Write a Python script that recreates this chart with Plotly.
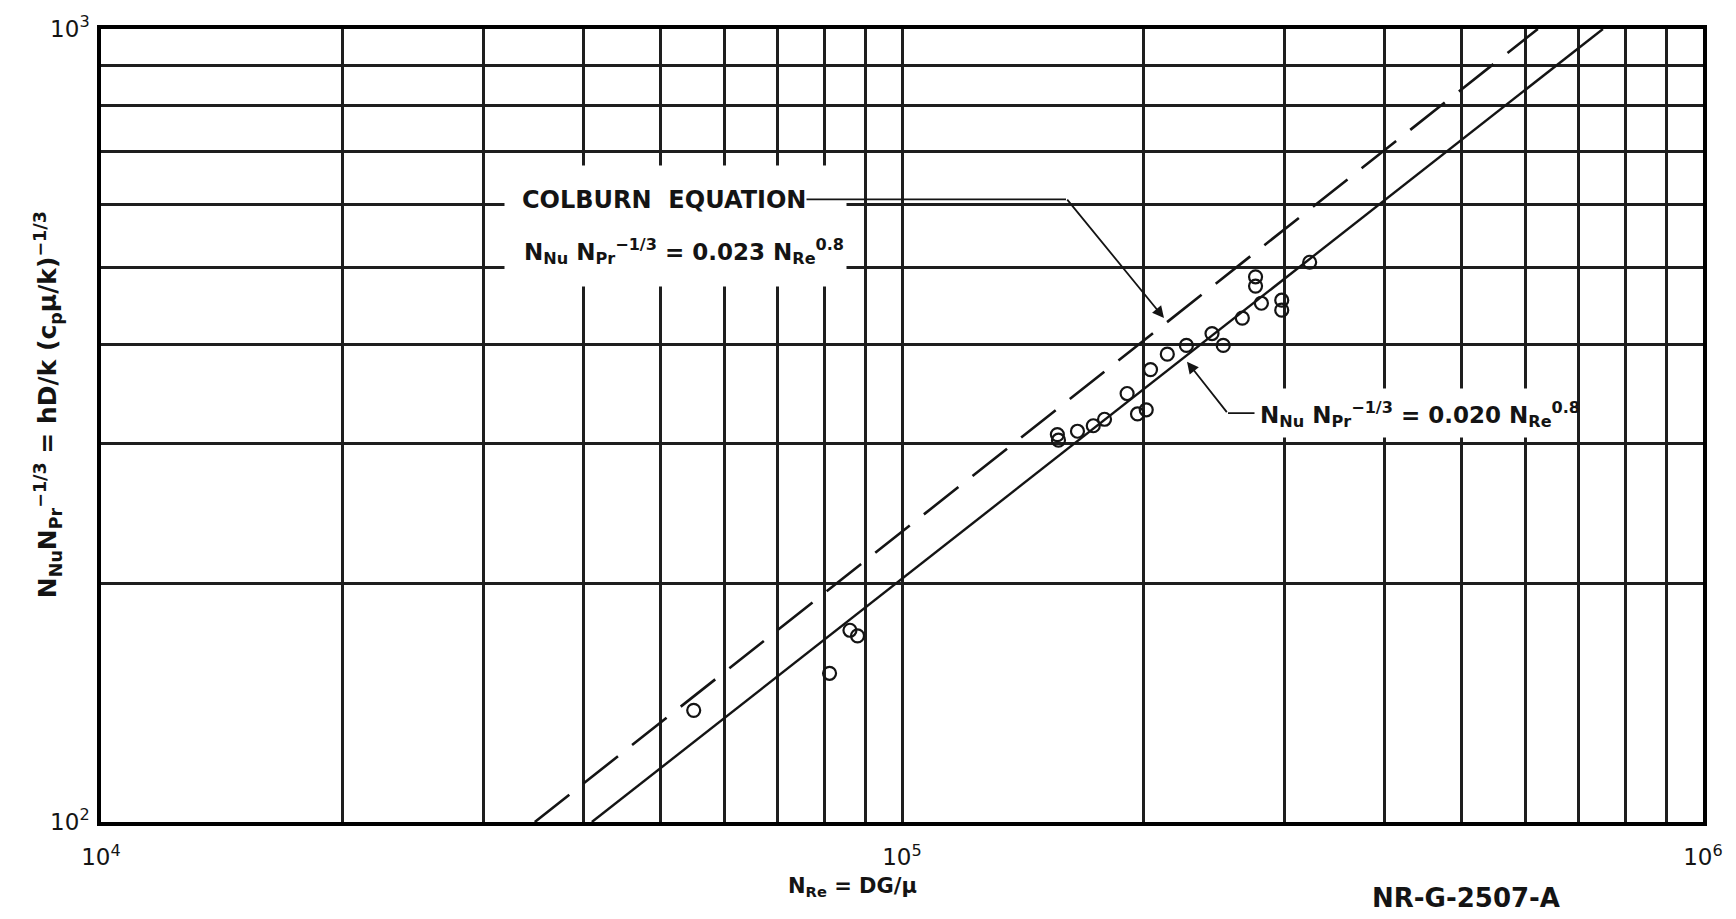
import plotly.graph_objects as go

# ---- data ----
re_pts = [54950, 81200, 86100, 88000, 156300, 156800, 165600, 173300, 179000,
          191000, 196800, 201800, 204300, 214400, 226500, 243800, 251800,
          266000, 276300, 276300, 281000, 297900, 297900, 322800]
nu_pts = [138.3, 154, 174.5, 171.7, 308, 303, 311, 316, 322,
          347, 327, 331, 372, 389, 399, 413, 399,
          432, 487, 474, 451, 455, 442, 508]

colburn_re = [34800, 622000]
colburn_nu = [100, 1000]
fit_re = [41000, 750000]
fit_nu = [100, 1000]

x_tickvals = [m * 10 ** e for e in (4, 5) for m in range(1, 10)] + [10 ** 6]
x_ticktext = ["10<sup>4</sup>"] + [""] * 8 + ["10<sup>5</sup>"] + [""] * 8 + ["10<sup>6</sup>"]
y_tickvals = [m * 100 for m in range(1, 10)] + [1000]
y_ticktext = ["10<sup>2</sup>"] + [""] * 8 + ["10<sup>3</sup>"]

INK = "#141414"
FONT = "DejaVu Sans"

fig = go.Figure()

fig.add_trace(go.Scatter(
    x=colburn_re, y=colburn_nu, mode="lines",
    line=dict(color=INK, width=2.6, dash="44px,18px"), showlegend=False))
fig.add_trace(go.Scatter(
    x=fit_re, y=fit_nu, mode="lines",
    line=dict(color=INK, width=2.4), showlegend=False))
fig.add_trace(go.Scatter(
    x=re_pts, y=nu_pts, mode="markers",
    marker=dict(symbol="circle-open", size=13, color=INK, line=dict(width=2.2, color=INK)),
    showlegend=False))

axis_common = dict(
    type="log", showgrid=True, gridcolor="#1e1e1e", gridwidth=2.5,
    showline=True, linecolor="black", linewidth=3.5, mirror=True,
    ticks="", zeroline=False, tickmode="array",
    tickfont=dict(family=FONT, size=23, color=INK),
)
fig.update_xaxes(range=[4, 6], tickvals=x_tickvals, ticktext=x_ticktext,
                 ticklabelstandoff=12, **axis_common)
fig.update_yaxes(range=[2, 3], tickvals=y_tickvals, ticktext=y_ticktext,
                 ticklabelstandoff=3, **axis_common)

W, H = 1736, 919
L, R, T, B = 101, 33, 21, 97
PW, PH = W - L - R, H - T - B


def px(x):
    return (x - L) / PW


def py(y):
    return (H - B - y) / PH


annotations = []
# white masks that break the grid behind the labels (drawn first)
for x0, y0, x1, y1 in [(505, 160, 846, 280), (1252, 385, 1570, 433)]:
    annotations.append(dict(xref="paper", yref="paper",
                            x=px((x0 + x1) / 2), y=py((y0 + y1) / 2),
                            xanchor="center", yanchor="middle",
                            width=x1 - x0, height=y1 - y0, borderpad=0,
                            text="&nbsp;", showarrow=False, bgcolor="white",
                            font=dict(size=4, color="white")))
# leader lines: plain segments (no head) and arrowed segments
for tx, ty, sx, sy, head in [(1066, 193, 805, 193, 0), (1164, 313, 1066, 193, 2),
                             (1228, 409, 1256, 409, 0), (1187, 357, 1228, 409, 2)]:
    annotations.append(dict(xref="paper", yref="paper", x=px(tx), y=py(ty),
                            ax=sx - tx, ay=sy - ty, text="", showarrow=True,
                            arrowhead=head, arrowsize=1.3, arrowwidth=1.8,
                            arrowcolor=INK, standoff=0, startstandoff=0))

annotations += [
    dict(xref="paper", yref="paper", x=px(520), y=py(194), xanchor="left", yanchor="middle",
         text="<b>COLBURN&nbsp; EQUATION</b>", showarrow=False,
         font=dict(family=FONT, size=24, color=INK)),
    dict(xref="paper", yref="paper", x=px(522), y=py(246), xanchor="left", yanchor="middle",
         text="<b>N<sub>Nu</sub> N<sub>Pr</sub><sup>−1/3</sup> = 0.023 N<sub>Re</sub><sup>0.8</sup></b>",
         showarrow=False, font=dict(family=FONT, size=23, color=INK)),
    dict(xref="paper", yref="paper", x=px(1258), y=py(410), xanchor="left", yanchor="middle",
         text="<b>N<sub>Nu</sub> N<sub>Pr</sub><sup>−1/3</sup> = 0.020 N<sub>Re</sub><sup>0.8</sup></b>",
         showarrow=False, font=dict(family=FONT, size=23, color=INK)),
    dict(xref="paper", yref="paper", x=px(48), y=py(401), xanchor="center", yanchor="middle",
         textangle=-90,
         text="<b>N<sub>Nu</sub>N<sub>Pr</sub><sup>−1/3</sup> = hD/k (c<sub>p</sub>μ/k)<sup>−1/3</sup></b>",
         showarrow=False, font=dict(family=FONT, size=25, color=INK)),
    dict(xref="paper", yref="paper", x=px(852), y=py(888), xanchor="center", yanchor="middle",
         text="<b>N<sub>Re</sub> = DG/μ</b>", showarrow=False,
         font=dict(family=FONT, size=21, color=INK)),
    dict(xref="paper", yref="paper", x=px(1466), y=py(899), xanchor="center", yanchor="middle",
         text="<b>NR-G-2507-A</b>", showarrow=False,
         font=dict(family=FONT, size=26, color=INK)),
]

fig.update_layout(
    width=W, height=H, margin=dict(l=L, r=R, t=T, b=B),
    paper_bgcolor="white", plot_bgcolor="white",
    annotations=annotations, showlegend=False,
    font=dict(family=FONT, color=INK),
)

fig.write_html("out.html")
